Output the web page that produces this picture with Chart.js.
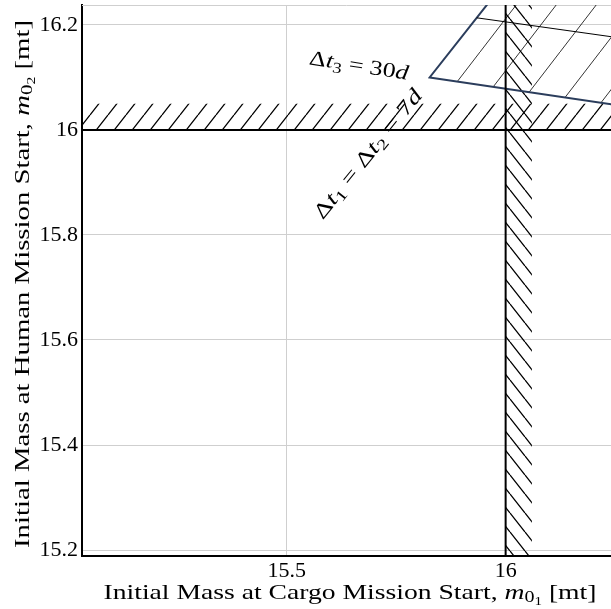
<!DOCTYPE html>
<html>
<head>
<meta charset="utf-8">
<script src="https://cdn.jsdelivr.net/npm/chart.js@4/dist/chart.umd.min.js"></script>
<style>
  html, body { margin: 0; padding: 0; background: #fff; }
  canvas { display: block; }
</style>
</head>
<body>
<canvas id="c" width="611" height="609"></canvas>
<script>
// Axis ranges and tick positions (metric tons)
const xRange = [15.0327, 16.2406];
const yRange = [15.1886, 16.238];
const xTicks = [15.5, 16];
const yTicks = [15.2, 15.4, 15.6, 15.8, 16, 16.2];

// Mass limits for the 7-day stay cases and the depth of their hatched bands
const cargoLimit = 16;
const humanLimit = 16;
const cargoBandDepth = 0.06;
const humanBandDepth = 0.05;

// Feasible region for the 30-day case (corner, edges extended past the frame)
const regionX = [16.0157, 15.8265, 16.3, 16.3, 16.0157];
const regionY = [16.3, 16.100, 16.0418, 16.3, 16.3];

// Inner boundary line inside that region
const innerX = [15.934, 16.3];
const innerY = [16.2136, 16.1707];

const pts = (xs, ys) => xs.map((x, i) => ({ x, y: ys[i] }));

// Hatch tile: one family of parallel lines, w = horizontal spacing, h = vertical spacing
function hatch(w, h, lw, dir) {
  const t = document.createElement('canvas');
  t.width = w; t.height = h;
  const g = t.getContext('2d');
  g.strokeStyle = '#000';
  g.lineWidth = lw;
  g.beginPath();
  for (let k = -1; k <= 1; k++) {
    if (dir === 'ne') { g.moveTo(0, h + k * h); g.lineTo(w, k * h); }
    else { g.moveTo(0, k * h); g.lineTo(w, h + k * h); }
  }
  g.stroke();
  return g.createPattern(t, 'repeat');
}

const ctx0 = document.getElementById('c').getContext('2d');
const neBand = hatch(18, 23, 1.3, 'ne');
const nwBand = hatch(15, 19, 1.3, 'nw');
const neRegion = hatch(40, 52, 0.8, 'ne');

const SERIF = '"Liberation Serif", "DejaVu Serif", serif';
const R = s => `${s}px ${SERIF}`;
const I = s => `italic ${s}px ${SERIF}`;

function richWidth(ctx, parts) {
  let w = 0;
  for (const p of parts) { ctx.font = p.font; w += ctx.measureText(p.t).width; }
  return w;
}
// Draws mixed-font text centred on (cx, cy), optionally stretched to a given length
function drawRich(ctx, parts, cx, cy, angle, span) {
  ctx.save();
  ctx.translate(cx, cy);
  ctx.rotate(angle);
  const w = richWidth(ctx, parts);
  if (span) ctx.scale(span / w, 1);
  ctx.fillStyle = '#000';
  ctx.textBaseline = 'alphabetic';
  ctx.textAlign = 'left';
  let x = -w / 2;
  for (const p of parts) {
    ctx.font = p.font;
    ctx.fillText(p.t, x, p.dy || 0);
    x += ctx.measureText(p.t).width;
  }
  ctx.restore();
}

const annotations = {
  id: 'annotations',
  beforeDatasetsDraw(chart) {
    const { ctx, chartArea: a } = chart;
    ctx.save();
    ctx.strokeStyle = '#cfcfcf';
    ctx.lineWidth = 1;
    ctx.beginPath();
    ctx.moveTo(a.left, a.top + 0.5);
    ctx.lineTo(a.right, a.top + 0.5);
    ctx.stroke();
    ctx.restore();
  },
  afterDraw(chart) {
    const { ctx } = chart;
    const s = 22, ss = 16, sss = 12;
    drawRich(ctx, [
      { t: 'Initial Mass at Cargo Mission Start, ', font: R(s) },
      { t: 'm', font: I(s) },
      { t: '0', font: R(ss), dy: 3 },
      { t: '1', font: R(sss), dy: 6 },
      { t: ' [mt]', font: R(s) }
    ], 350, 599, 0, 493);
    drawRich(ctx, [
      { t: 'Initial Mass at Human Mission Start, ', font: R(s) },
      { t: 'm', font: I(s) },
      { t: '0', font: R(ss), dy: 3 },
      { t: '2', font: R(sss), dy: 6 },
      { t: ' [mt]', font: R(s) }
    ], 29, 284, -Math.PI / 2, 528);
    drawRich(ctx, [
      { t: 'Δ', font: R(21) },
      { t: 't', font: I(21) },
      { t: '3', font: R(15), dy: 4 },
      { t: ' = 30', font: R(21) },
      { t: 'd', font: I(21) }
    ], 358, 72, 9 * Math.PI / 180, 100);
    drawRich(ctx, [
      { t: 'Δ', font: R(21) },
      { t: 't', font: I(21) },
      { t: '1', font: R(15), dy: 4 },
      { t: ' = Δ', font: R(21) },
      { t: 't', font: I(21) },
      { t: '2', font: R(15), dy: 4 },
      { t: ' = 7', font: R(21) },
      { t: 'd', font: I(21) }
    ], 373, 158, -51 * Math.PI / 180, 160);
  }
};

// Keep the frame edge-to-edge: no extra room reserved for end tick labels
const noEdgePadding = s => { s.paddingTop = 0; s.paddingBottom = 0; s.paddingLeft = 0; s.paddingRight = 0; };

new Chart(ctx0, {
  type: 'line',
  data: {
    datasets: [
      {
        // hatched band above the human-mission mass limit
        data: pts([15.0, 16.3, 16.3, 15.0], [humanLimit, humanLimit, humanLimit + humanBandDepth, humanLimit + humanBandDepth]),
        fill: 'shape', backgroundColor: neBand, borderWidth: 0, pointRadius: 0, order: 6
      },
      {
        // hatched band right of the cargo-mission mass limit
        data: pts([cargoLimit, cargoLimit + cargoBandDepth, cargoLimit + cargoBandDepth, cargoLimit], [15.1, 15.1, 16.3, 16.3]),
        fill: 'shape', backgroundColor: nwBand, borderWidth: 0, pointRadius: 0, order: 5
      },
      {
        // 30-day feasible region
        data: pts(regionX, regionY),
        fill: 'shape', backgroundColor: neRegion, borderColor: '#2b3d5c', borderWidth: 2, pointRadius: 0, order: 4
      },
      {
        data: pts(innerX, innerY),
        fill: false, borderColor: '#000', borderWidth: 1, pointRadius: 0, order: 3
      },
      {
        data: pts([15.0, 16.3], [humanLimit, humanLimit]),
        fill: false, borderColor: '#000', borderWidth: 2, pointRadius: 0, order: 2
      },
      {
        data: pts([cargoLimit, cargoLimit], [15.1, 16.3]),
        fill: false, borderColor: '#000', borderWidth: 2, pointRadius: 0, order: 1
      }
    ]
  },
  options: {
    responsive: false,
    animation: false,
    devicePixelRatio: 1,
    layout: { padding: { top: 5, left: 0, right: 0, bottom: 0 } },
    elements: { line: { tension: 0 } },
    plugins: { legend: { display: false }, tooltip: { enabled: false } },
    scales: {
      x: {
        type: 'linear', min: xRange[0], max: xRange[1],
        afterBuildTicks: s => { s.ticks = xTicks.map(v => ({ value: v })); },
        afterFit: s => { s.height = 53; noEdgePadding(s); },
        grid: { color: '#cfcfcf', lineWidth: 1, drawTicks: false },
        border: { color: '#000', width: 2 },
        ticks: { padding: 2, color: '#000', maxRotation: 0, autoSkip: false,
                 font: { family: SERIF, size: 22 }, callback: v => String(v) }
      },
      y: {
        type: 'linear', min: yRange[0], max: yRange[1],
        afterBuildTicks: s => { s.ticks = yTicks.map(v => ({ value: v })); },
        afterFit: s => { s.width = 82; noEdgePadding(s); },
        grid: { color: '#cfcfcf', lineWidth: 1, drawTicks: false },
        border: { color: '#000', width: 2 },
        ticks: { padding: 4, color: '#000', autoSkip: false,
                 font: { family: SERIF, size: 22 }, callback: v => String(v) }
      }
    }
  },
  plugins: [annotations]
});
</script>
</body>
</html>
